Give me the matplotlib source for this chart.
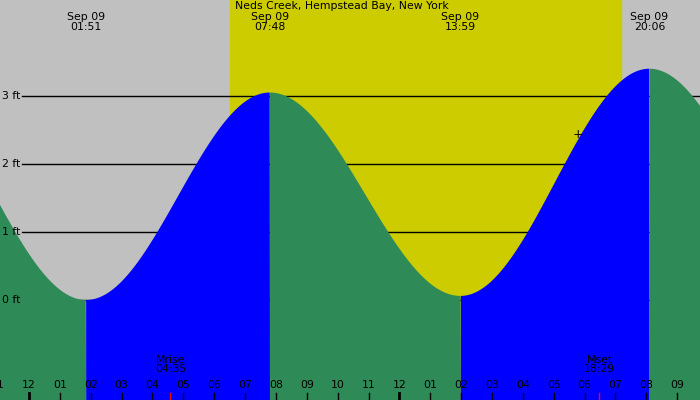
import numpy as np
import matplotlib
matplotlib.use("Agg")
import matplotlib.pyplot as plt

title = "Neds Creek, Hempstead Bay, New York"
# tide extrema (hours from Sep 09 00:00, feet)
ext_times = [-4.3, 1.85, 7.8, 13.98, 20.1, 26.25]
ext_heights = [3.27, 0.0, 3.05, 0.06, 3.4, 0.1]
ext_labels = ["", "01:51", "07:48", "13:59", "20:06", ""]
sunrise, sunset = 6.51, 19.18
moonrise, moonset = 4.583, 18.483
moon_labels = [("Mrise", "04:35"), ("Mset", "18:29")]
grid_ft = [0, 1, 2, 3]
marker_t, marker_ft = 17.8, 2.43

x0, x1 = -0.94, 21.74
y0, y1 = -1.47, 4.41
FS = 7.8

fig = plt.figure(figsize=(7, 4), dpi=100)
ax = fig.add_axes([0, 0, 1, 1])
ax.set_xlim(x0, x1); ax.set_ylim(y0, y1); ax.axis("off")
ax.axvspan(x0, x1, color="#c0c0c0", zorder=0)
ax.axvspan(sunrise, sunset, color="#cccc00", zorder=0)

t = np.linspace(x0, x1, 2000)
h = np.zeros_like(t)
rising = np.zeros_like(t, dtype=bool)
for i in range(len(ext_times) - 1):
    a, b = ext_times[i], ext_times[i + 1]
    m = (t >= a) & (t <= b)
    f = (t[m] - a) / (b - a)
    h[m] = ext_heights[i + 1] + (ext_heights[i] - ext_heights[i + 1]) * (1 + np.cos(np.pi * f)) / 2
    rising[m] = ext_heights[i + 1] > ext_heights[i]
ax.fill_between(t, y0, h, where=rising, color="#0000ff", zorder=2, linewidth=0, interpolate=True)
ax.fill_between(t, y0, h, where=~rising, color="#2e8b57", zorder=2, linewidth=0, interpolate=True)

for g in grid_ft:
    ax.plot([x0 + 0.72, x1], [g, g], color="black", lw=1, zorder=1)
    ax.text(x0 + 0.07, g, f"{g} ft", fontsize=FS, va="center", ha="left", zorder=4)

ax.text(marker_t, marker_ft, "+", fontsize=9, ha="center", va="center", zorder=4)

ax.text(sunrise + 0.15, y1 - 0.01, title, fontsize=FS, va="top", ha="left", zorder=4)
for tt, lab in zip(ext_times, ext_labels):
    if lab:
        ax.text(tt, y1 - 0.18, "Sep 09\n" + lab, fontsize=FS, ha="center", va="top",
                linespacing=0.95, zorder=4)

for hr in range(-1, 22):
    lab = f"{(hr % 12) or 12:02d}"
    ax.text(hr, y0 + 0.22, lab, fontsize=FS, ha="center", va="center", zorder=4)
    thick = hr % 12 == 0
    ax.plot([hr, hr], [y0, y0 + 0.11], color="black", lw=2 if thick else 1, zorder=4)
for mt, (a, b) in zip([moonrise, moonset], moon_labels):
    ax.plot([mt, mt], [y0, y0 + 0.11], color="red", lw=1, zorder=4)
    ax.text(mt, y0 + 0.52, a + "\n" + b, fontsize=FS, ha="center", va="center",
            linespacing=0.95, zorder=4)

fig.savefig("out.png", dpi=100)
